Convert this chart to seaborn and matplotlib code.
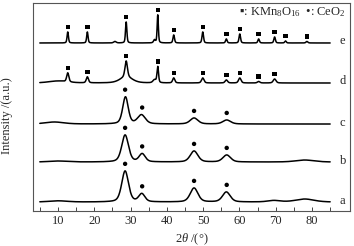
import numpy as np
import pandas as pd
import seaborn as sns
import matplotlib.pyplot as plt

# XRD patterns: baseline level, peak position (deg), height, FWHM (deg)
samples = ['a', 'b', 'c', 'd', 'e']
baselines = [9, 49, 87, 128, 168]

a_pos = [10.0, 28.5, 33.1, 47.5, 56.4, 69.5, 78.0]
a_amp = [1.2, 31, 8, 14, 10, 1.5, 3]
a_wid = [6.0, 2.2, 2.0, 2.5, 2.5, 4.0, 6.0]

b_pos = [10.0, 28.5, 33.2, 47.5, 56.5, 78.0]
b_amp = [1.0, 27, 8, 11, 7, 2]
b_wid = [6.0, 2.2, 2.0, 2.5, 2.5, 6.0]

c_pos = [9.0, 28.6, 33.0, 47.5, 56.5]
c_amp = [2.0, 27, 9, 6, 4]
c_wid = [6.0, 1.8, 2.5, 2.5, 2.5]

d_pos = [10.0, 12.7, 18.1, 28.8, 28.8, 36.6, 37.5, 41.9, 49.9, 56.4, 60.1, 65.3, 69.7]
d_amp = [2.0, 9, 6, 16, 6, 3, 16, 5, 5, 3, 5, 1.5, 4]
d_wid = [6.0, 0.7, 0.7, 0.8, 4.0, 1.0, 0.5, 0.7, 0.8, 0.8, 0.8, 0.8, 0.9]

e_pos = [12.7, 18.1, 25.7, 28.8, 36.6, 37.5, 41.9, 49.9, 56.4, 60.1, 65.3, 69.7, 72.7, 78.6]
e_amp = [11, 11, 1.5, 21, 3, 28, 8, 11, 4, 9, 4, 6, 2, 1.5]
e_wid = [0.45, 0.45, 0.8, 0.45, 0.6, 0.4, 0.5, 0.5, 0.5, 0.5, 0.5, 0.5, 0.5, 0.6]

# phase markers
kmn_e = [12.7, 18.1, 28.8, 37.5, 41.9, 49.9, 56.4, 60.1, 65.3, 69.7, 72.7, 78.6]
kmn_d = [12.7, 18.1, 28.8, 37.5, 41.9, 49.9, 56.4, 60.1, 65.3, 69.7]
ceo2 = [28.5, 33.2, 47.5, 56.5]

peak_tables = {
    'a': (a_pos, a_amp, a_wid),
    'b': (b_pos, b_amp, b_wid),
    'c': (c_pos, c_amp, c_wid),
    'd': (d_pos, d_amp, d_wid),
    'e': (e_pos, e_amp, e_wid),
}

two_theta = np.arange(5, 85.01, 0.05)


def profile(pos, amp, wid):
    y = np.zeros_like(two_theta)
    for p, h, w in zip(pos, amp, wid):
        g = np.exp(-4 * np.log(2) * ((two_theta - p) / w) ** 2)
        l = 1 / (1 + 4 * ((two_theta - p) / w) ** 2)
        y += h * (0.6 * g + 0.4 * l)
    return y


frames = []
for s, base in zip(samples, baselines):
    y = base + profile(*peak_tables[s])
    frames.append(pd.DataFrame({'two_theta': two_theta, 'intensity': y, 'sample': s}))
df = pd.concat(frames, ignore_index=True)

curves = {s: df[df['sample'] == s] for s in samples}
mark_rows = []
for s, pos_list, kind, gap in [('e', kmn_e, 's', 5), ('d', kmn_d, 's', 5),
                               ('c', ceo2, 'o', 7), ('b', ceo2, 'o', 7), ('a', ceo2, 'o', 7)]:
    cv = curves[s]
    for p in pos_list:
        top = cv[(cv['two_theta'] > p - 0.6) & (cv['two_theta'] < p + 0.6)]['intensity'].max()
        mark_rows.append({'two_theta': p, 'intensity': top + gap, 'kind': kind})
marks = pd.DataFrame(mark_rows)

sns.set_style("ticks")
plt.rcParams['font.family'] = ['Liberation Serif', 'DejaVu Sans']
plt.rcParams['mathtext.fontset'] = 'custom'
plt.rcParams['mathtext.rm'] = 'Liberation Serif'
plt.rcParams['mathtext.it'] = 'Liberation Serif:italic'

fig = plt.figure(figsize=(3.54, 2.46), dpi=100)
ax = fig.add_axes([0.093, 0.142, 0.896, 0.846])

sns.lineplot(data=df, x='two_theta', y='intensity', units='sample', estimator=None,
             color='black', linewidth=1.1, ax=ax, sort=False)
sns.scatterplot(data=marks, x='two_theta', y='intensity', style='kind',
                markers={'s': 's', 'o': 'o'}, color='black', s=10, linewidth=0,
                legend=False, ax=ax)

for s, base in zip(samples, baselines):
    ax.text(87.6, base + 1.5, s, fontsize=9, va='center', ha='left')

ax.text(0.985, 0.955, '▪: KMn$_8$O$_{16}$  •: CeO$_2$', transform=ax.transAxes,
        fontsize=9, ha='right', va='center')

ax.set_xlim(3.1, 90.5)
ax.set_ylim(0, 208)
ax.set_xticks(np.arange(5, 90, 5))
ax.set_xticklabels(['' if t % 10 else str(t) for t in range(5, 90, 5)])
ax.set_yticks([])
ax.tick_params(axis='x', direction='in', length=3, width=0.7, labelsize=9, pad=3, color='#444444')
for sp in ax.spines.values():
    sp.set_color('#555555')
    sp.set_linewidth(0.8)
ax.set_xlabel(r'2$\mathit{\theta}$ /(°)', fontsize=9, labelpad=3)
ax.set_ylabel('Intensity /(a.u.)', fontsize=9, labelpad=6)
ax.yaxis.set_label_coords(-0.062, 0.46)

fig.savefig('out.png', dpi=100)
